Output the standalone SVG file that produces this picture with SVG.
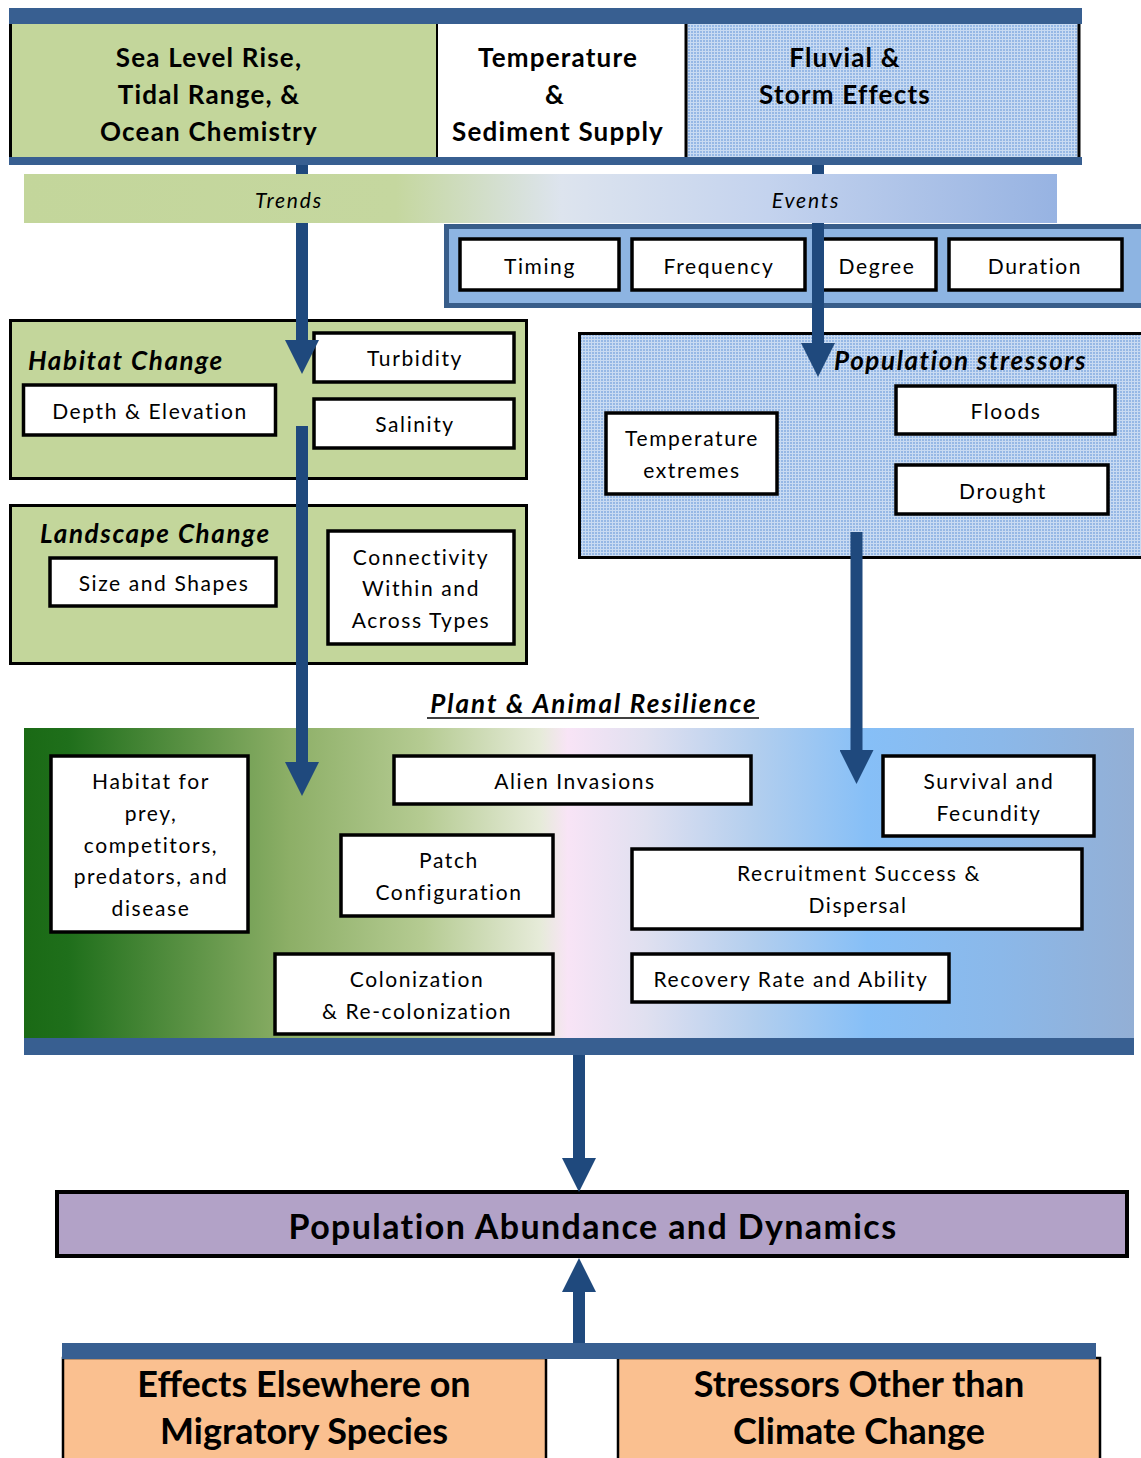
<svg xmlns="http://www.w3.org/2000/svg" width="1141" height="1458" viewBox="0 0 1141 1458">
<defs>
<pattern id="dots" width="3" height="3" patternUnits="userSpaceOnUse">
<rect width="3" height="3" fill="#96B8E5"/>
<rect width="3" height="1" fill="#C9DBF2"/>
<rect width="1" height="3" fill="#C9DBF2"/>
</pattern>
<linearGradient id="trend" x1="0" x2="1" y1="0" y2="0">
<stop offset="0" stop-color="#C3D69B"/>
<stop offset="0.36" stop-color="#C5D79F"/>
<stop offset="0.52" stop-color="#DDE4EE"/>
<stop offset="0.72" stop-color="#C4D3EE"/>
<stop offset="1" stop-color="#97B3E2"/>
</linearGradient>
<linearGradient id="resil" x1="0" x2="1" y1="0" y2="0">
<stop offset="0" stop-color="#1A6A15"/>
<stop offset="0.04" stop-color="#1F6F1B"/>
<stop offset="0.24" stop-color="#8DAF67"/>
<stop offset="0.36" stop-color="#B5CB92"/>
<stop offset="0.465" stop-color="#E6EBD9"/>
<stop offset="0.49" stop-color="#F8E4F6"/>
<stop offset="0.56" stop-color="#E0E0F0"/>
<stop offset="0.66" stop-color="#B2CEEE"/>
<stop offset="0.76" stop-color="#86BFF7"/>
<stop offset="0.88" stop-color="#8BB8E9"/>
<stop offset="1" stop-color="#93AFD5"/>
</linearGradient>
<marker id="head" viewBox="0 0 34 34" refX="0" refY="17" markerWidth="34" markerHeight="34" markerUnits="userSpaceOnUse" orient="auto">
<path d="M0,0 L34,17 L0,34 z" fill="#1F497D"/>
</marker>
<style>
text{font-family:Lato,"Liberation Sans",sans-serif;fill:#000;text-anchor:middle;dominant-baseline:central}
.hd{font-size:26px;font-weight:bold;letter-spacing:1.2px}
.it{font-size:21px;font-style:italic;letter-spacing:1.8px}
.bi{font-size:26px;font-weight:bold;font-style:italic;text-anchor:start;letter-spacing:1.6px}
.lb{font-size:21px;letter-spacing:1.6px}
.big{font-size:34px;font-weight:bold;letter-spacing:1.4px}
.org{font-size:36px;font-weight:bold}
.box{fill:#fff;stroke:#000;stroke-width:3.5}
.grp{fill:#C3D69B;stroke:#000;stroke-width:3}
.bar{fill:#385F91}
.conn{stroke:#1F497D;stroke-width:12;fill:none}
</style>
</defs>

<g id="top-header">
<rect class="bar" x="9" y="8" width="1073" height="16"/>
<rect x="10" y="24" width="427" height="133" fill="#C3D69B"/>
<rect x="437" y="24" width="248" height="133" fill="#fff"/>
<rect x="685" y="24" width="395" height="133" fill="url(#dots)"/>
<line x1="10.5" y1="24" x2="10.5" y2="157" stroke="#000" stroke-width="3"/>
<line x1="437" y1="24" x2="437" y2="157" stroke="#000" stroke-width="2"/>
<line x1="686" y1="24" x2="686" y2="157" stroke="#000" stroke-width="3"/>
<line x1="1079" y1="24" x2="1079" y2="157" stroke="#000" stroke-width="3"/>
<rect class="bar" x="9" y="157" width="1073" height="8"/>
</g>
<g id="sea-level">
<text class="hd" x="209" y="57">Sea Level Rise,</text>
<text class="hd" x="209" y="94">Tidal Range, &amp;</text>
<text class="hd" x="209" y="131">Ocean Chemistry</text>
</g>
<g id="temperature">
<text class="hd" x="558" y="57">Temperature</text>
<text class="hd" x="555" y="94">&amp;</text>
<text class="hd" x="558" y="131">Sediment Supply</text>
</g>
<g id="fluvial">
<text class="hd" x="845" y="57">Fluvial &amp;</text>
<text class="hd" x="845" y="94">Storm Effects</text>
</g>

<g id="trends-events">
<rect x="24" y="174" width="1033" height="49" fill="url(#trend)"/>
<text class="it" x="289" y="199">Trends</text>
<text class="it" x="806" y="199">Events</text>
</g>

<g id="event-attributes">
<rect x="446.5" y="226.5" width="700" height="79" fill="#8DB4E2" stroke="#385D8A" stroke-width="5"/>
<rect class="box" x="460" y="239" width="159" height="51"/>
<text class="lb" x="540" y="265">Timing</text>
<rect class="box" x="632" y="239" width="173" height="51"/>
<text class="lb" x="719" y="265">Frequency</text>
<rect class="box" x="818" y="239" width="118" height="51"/>
<text class="lb" x="877" y="265">Degree</text>
<rect class="box" x="949" y="239" width="173" height="51"/>
<text class="lb" x="1035" y="265">Duration</text>
</g>

<g id="habitat-change">
<rect class="grp" x="10.5" y="320.5" width="516" height="158"/>
<text class="bi" x="28" y="360">Habitat Change</text>
<rect class="box" x="23.5" y="385" width="252" height="50"/>
<text class="lb" x="150" y="410">Depth &amp; Elevation</text>
<rect class="box" x="314" y="333" width="200" height="49"/>
<text class="lb" x="415" y="357">Turbidity</text>
<rect class="box" x="314" y="399" width="200" height="49"/>
<text class="lb" x="415" y="423">Salinity</text>
</g>

<g id="landscape-change">
<rect class="grp" x="10.5" y="505.5" width="516" height="158"/>
<text class="bi" x="40" y="533">Landscape Change</text>
<rect class="box" x="50" y="558" width="226" height="48"/>
<text class="lb" x="164" y="582">Size and Shapes</text>
<rect class="box" x="328" y="531" width="186" height="113"/>
<text class="lb" x="421" y="556">Connectivity</text>
<text class="lb" x="421" y="587">Within and</text>
<text class="lb" x="421" y="619">Across Types</text>
</g>

<g id="population-stressors">
<rect x="579.5" y="333.5" width="570" height="224" fill="url(#dots)" stroke="#000" stroke-width="3"/>
<text class="bi" x="834" y="360">Population stressors</text>
<rect class="box" x="606" y="413" width="171" height="81"/>
<text class="lb" x="692" y="437">Temperature</text>
<text class="lb" x="692" y="469">extremes</text>
<rect class="box" x="896" y="386" width="219" height="48"/>
<text class="lb" x="1006" y="410">Floods</text>
<rect class="box" x="896" y="465" width="212" height="49"/>
<text class="lb" x="1003" y="490">Drought</text>
</g>

<g id="resilience">
<rect x="24" y="728" width="1110" height="311" fill="url(#resil)"/>
<rect class="bar" x="24" y="1038" width="1110" height="17"/>
<text x="594" y="703" style="font-size:26px;font-weight:bold;font-style:italic;letter-spacing:2px">Plant &amp;  Animal Resilience</text>
<line x1="427" y1="718" x2="759" y2="718" stroke="#000" stroke-width="1.5"/>
<rect class="box" x="51" y="756" width="197" height="176"/>
<text class="lb" x="151" y="780">Habitat for</text>
<text class="lb" x="151" y="812">prey,</text>
<text class="lb" x="151" y="844">competitors,</text>
<text class="lb" x="151" y="875">predators, and</text>
<text class="lb" x="151" y="907">disease</text>
<rect class="box" x="394" y="756" width="357" height="48"/>
<text class="lb" x="575" y="780">Alien Invasions</text>
<rect class="box" x="883" y="756" width="211" height="80"/>
<text class="lb" x="989" y="780">Survival and</text>
<text class="lb" x="989" y="812">Fecundity</text>
<rect class="box" x="341" y="835" width="212" height="81"/>
<text class="lb" x="449" y="859">Patch</text>
<text class="lb" x="449" y="891">Configuration</text>
<rect class="box" x="632" y="849" width="450" height="80"/>
<text class="lb" x="859" y="872">Recruitment Success &amp;</text>
<text class="lb" x="858" y="904">Dispersal</text>
<rect class="box" x="275" y="954" width="278" height="80"/>
<text class="lb" x="417" y="978">Colonization</text>
<text class="lb" x="417" y="1010">&amp; Re-colonization</text>
<rect class="box" x="632" y="954" width="317" height="48"/>
<text class="lb" x="791" y="978">Recovery Rate and Ability</text>
</g>

<g id="population-abundance">
<rect x="57" y="1192" width="1070" height="64" fill="#B2A2C7" stroke="#000" stroke-width="4"/>
<text class="big" x="593" y="1225">Population Abundance and Dynamics</text>
</g>

<g id="other-factors">
<rect x="63" y="1358" width="483" height="110" fill="#FAC090" stroke="#000" stroke-width="2.5"/>
<rect x="618" y="1358" width="482" height="110" fill="#FAC090" stroke="#000" stroke-width="2.5"/>
<rect class="bar" x="62" y="1343" width="1034" height="16"/>
<text class="org" x="304" y="1383">Effects Elsewhere on</text>
<text class="org" x="304" y="1430">Migratory Species</text>
<text class="org" x="859" y="1383">Stressors Other than</text>
<text class="org" x="859" y="1430">Climate Change</text>
</g>

<g id="connectors">
<line class="conn" x1="302" y1="165" x2="302" y2="174"/>
<line class="conn" x1="818" y1="165" x2="818" y2="174"/>
<line class="conn" x1="302" y1="223" x2="302" y2="340" marker-end="url(#head)"/>
<line class="conn" x1="818" y1="223" x2="818" y2="343" marker-end="url(#head)"/>
<line class="conn" x1="302" y1="426" x2="302" y2="762" marker-end="url(#head)"/>
<line class="conn" x1="856.5" y1="532" x2="856.5" y2="750" marker-end="url(#head)"/>
<line class="conn" x1="579" y1="1055" x2="579" y2="1158" marker-end="url(#head)"/>
<line class="conn" x1="579" y1="1343" x2="579" y2="1292" marker-end="url(#head)"/>
</g>
</svg>
